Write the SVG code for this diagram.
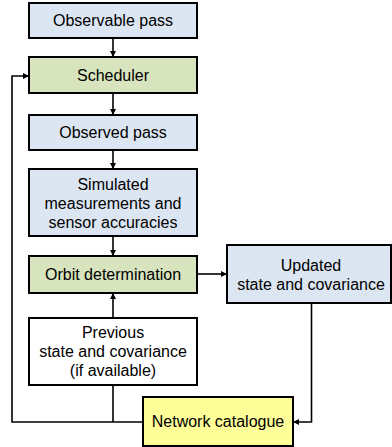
<svg xmlns="http://www.w3.org/2000/svg" width="392" height="447" viewBox="0 0 392 447">
<style>
.box{stroke:#000;stroke-width:2}
.blue{fill:#dce6f2}
.green{fill:#d7e4bd}
.yellow{fill:#ffff99}
.white{fill:#fff}
text{font-family:"Liberation Sans",Arial,sans-serif;font-size:16px;fill:#000;text-anchor:middle}
.conn{fill:none;stroke:#000;stroke-width:1.6}
</style>
<defs>
<marker id="ah" markerWidth="8" markerHeight="8" refX="6" refY="3" orient="auto" markerUnits="userSpaceOnUse">
<path d="M0,0 L6,3 L0,6 z" fill="#000"/>
</marker>
</defs>
<g id="connectors">
<path class="conn" d="M113,38 V57" marker-end="url(#ah)"/>
<path class="conn" d="M113,93 V115" marker-end="url(#ah)"/>
<path class="conn" d="M113,150 V169" marker-end="url(#ah)"/>
<path class="conn" d="M113,236 V256" marker-end="url(#ah)"/>
<path class="conn" d="M113,318 V293" marker-end="url(#ah)"/>
<path class="conn" d="M197,274 H227" marker-end="url(#ah)"/>
<path class="conn" d="M311.5,303 V422 H293" marker-end="url(#ah)"/>
<path class="conn" d="M143,422 H12 V76 H29" marker-end="url(#ah)"/>
<path class="conn" d="M113,385 V422"/>
</g>
<g id="observable-pass">
<rect class="box blue" x="29" y="3" width="168" height="35"/>
<text x="113" y="26">Observable pass</text>
</g>
<g id="scheduler">
<rect class="box green" x="29" y="57" width="168" height="36"/>
<text x="113" y="81">Scheduler</text>
</g>
<g id="observed-pass">
<rect class="box blue" x="29" y="115" width="168" height="35"/>
<text x="113" y="138">Observed pass</text>
</g>
<g id="simulated">
<rect class="box blue" x="29" y="169" width="168" height="67"/>
<text x="113" y="190">Simulated</text>
<text x="113" y="209">measurements and</text>
<text x="113" y="228">sensor accuracies</text>
</g>
<g id="orbit-determination">
<rect class="box green" x="29" y="256" width="168" height="37"/>
<text x="113" y="280">Orbit determination</text>
</g>
<g id="previous">
<rect class="box white" x="29" y="318" width="168" height="67"/>
<text x="113" y="338">Previous</text>
<text x="113" y="357">state and covariance</text>
<text x="113" y="376">(if available)</text>
</g>
<g id="updated">
<rect class="box blue" x="227" y="245" width="164" height="58"/>
<text x="311" y="271">Updated</text>
<text x="311" y="290">state and covariance</text>
</g>
<g id="network-catalogue">
<rect class="box yellow" x="143" y="397" width="150" height="49"/>
<text x="218" y="427">Network catalogue</text>
</g>
</svg>
